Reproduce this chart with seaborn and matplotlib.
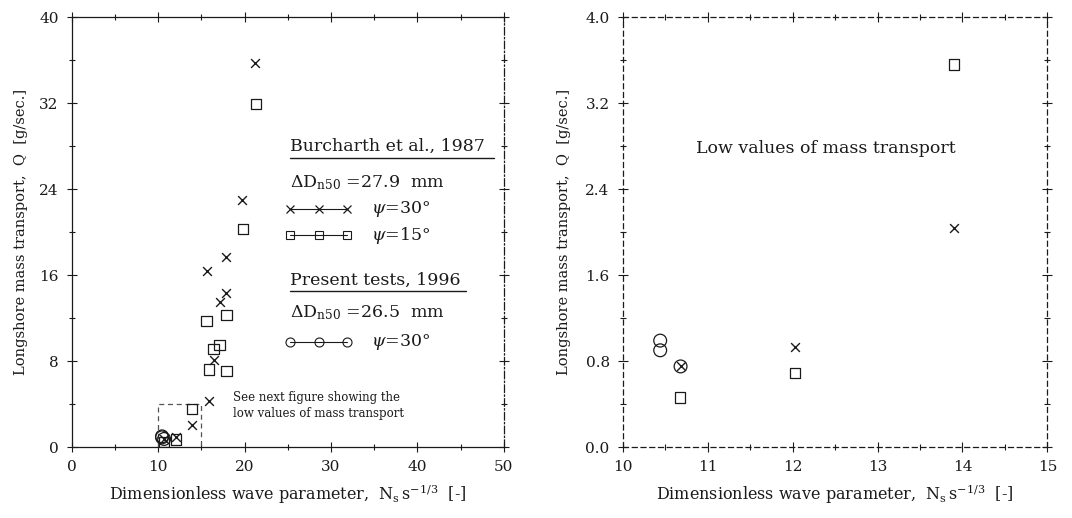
import matplotlib
matplotlib.use("Agg")
import matplotlib.pyplot as plt
import matplotlib.ticker as mticker
import seaborn as sns
import pandas as pd

# ---------------- data ----------------
burch30_x = [21.2, 19.7, 17.9, 15.6, 17.9, 17.1, 16.4, 15.9, 13.9, 12.03, 10.68]
burch30_q = [35.7, 23.0, 17.7, 16.4, 14.3, 13.5, 8.1, 4.3, 2.04, 0.93, 0.75]
burch15_x = [21.3, 19.8, 17.9, 15.6, 17.1, 16.4, 15.9, 17.9, 13.9, 12.03, 10.67]
burch15_q = [31.9, 20.3, 12.3, 11.7, 9.5, 9.1, 7.2, 7.1, 3.56, 0.69, 0.46]
present30_x = [10.44, 10.44, 10.68]
present30_q = [0.99, 0.90, 0.75]

zoom_x = [10, 15]
zoom_q = [0.0, 4.0]

left_xticks = [0, 10, 20, 30, 40, 50]
left_yticks = [0, 8, 16, 24, 32, 40]
right_xticks = [10, 11, 12, 13, 14, 15]
right_yticks = [0.0, 0.8, 1.6, 2.4, 3.2, 4.0]

df30 = pd.DataFrame({"x": burch30_x, "q": burch30_q})
df15 = pd.DataFrame({"x": burch15_x, "q": burch15_q})
dfp = pd.DataFrame({"x": present30_x, "q": present30_q})

# ---------------- style ----------------
sns.set_theme(style="white")
plt.rcParams["font.family"] = ["DejaVu Serif"]
plt.rcParams["mathtext.fontset"] = "dejavuserif"
INK = "#1a1a1a"
plt.rcParams["text.color"] = INK
plt.rcParams["axes.labelcolor"] = INK
plt.rcParams["xtick.color"] = INK
plt.rcParams["ytick.color"] = INK

fig = plt.figure(figsize=(10.72, 5.18), dpi=100)
axL = fig.add_axes([0.067, 0.137, 0.403, 0.830])
axR = fig.add_axes([0.581, 0.137, 0.396, 0.830])


def draw_points(ax):
    sns.scatterplot(data=df30, x="x", y="q", ax=ax, marker="x", s=40,
                    color=INK, linewidth=1.0, legend=False, zorder=3)
    sns.scatterplot(data=df15, x="x", y="q", ax=ax, marker="s", s=55,
                    facecolor="none", edgecolor=INK, linewidth=0.9,
                    legend=False, zorder=3)
    sns.scatterplot(data=dfp, x="x", y="q", ax=ax, marker="o", s=85,
                    facecolor="none", edgecolor=INK, linewidth=0.9,
                    legend=False, zorder=3)


def style_axes(ax, xt, yt, xminor, yminor, spine_styles):
    ax.set_xticks(xt)
    ax.set_yticks(yt)
    ax.xaxis.set_minor_locator(mticker.MultipleLocator(xminor))
    ax.yaxis.set_minor_locator(mticker.MultipleLocator(yminor))
    ax.tick_params(which="both", direction="inout", top=True, right=True,
                   bottom=True, left=True, labelsize=11, color=INK,
                   width=0.8)
    ax.tick_params(which="major", length=7, pad=6)
    ax.tick_params(which="minor", length=4)
    for side, ls in spine_styles.items():
        ax.spines[side].set_visible(True)
        ax.spines[side].set_linestyle(ls)
        ax.spines[side].set_color(INK)
        ax.spines[side].set_linewidth(0.9)
    ax.grid(False)


xlabel = r"Dimensionless wave parameter,  $\mathregular{N_s\,s^{-1/3}}$  [-]"
ylabel = r"Longshore mass transport,  Q  [g/sec.]"

# ---------------- left panel ----------------
draw_points(axL)
axL.set_xlim(left_xticks[0], left_xticks[-1])
axL.set_ylim(left_yticks[0], left_yticks[-1])
style_axes(axL, left_xticks, left_yticks, 5, 4,
           {"top": "-", "bottom": "-", "left": "-", "right": (0, (6, 2, 1, 2))})
axL.set_xlabel(xlabel, fontsize=11.5, labelpad=6)
axL.set_ylabel(ylabel, fontsize=10.5, labelpad=8)

# dashed zoom box
axL.plot([zoom_x[0], zoom_x[0], zoom_x[1], zoom_x[1]],
         [zoom_q[0], zoom_q[1], zoom_q[1], zoom_q[0]],
         ls=(0, (4, 3)), color="#555555", lw=0.9, zorder=2)
axL.text(18.6, 3.85, "See next figure showing the\nlow values of mass transport",
         fontsize=8.5, ha="left", va="center", linespacing=1.3)

# hand-made legend (axes fraction coordinates)
tr = axL.transAxes
fs = 12.5
axL.text(0.504, 0.700, "Burcharth et al., 1987", transform=tr, fontsize=fs,
         va="center", ha="left")
axL.plot([0.504, 0.978], [0.672, 0.672], transform=tr, color=INK, lw=1.0)
axL.text(0.504, 0.615, r"$\Delta\mathregular{D}_{\mathregular{n50}}$ =27.9  mm",
         transform=tr, fontsize=fs, va="center", ha="left")
axL.plot([0.504, 0.571, 0.638], [0.553] * 3, transform=tr, color=INK, lw=0.8,
         marker="x", ms=5.5, mew=0.9)
axL.text(0.692, 0.553, r"$\psi$=30$\degree$", transform=tr, fontsize=fs,
         va="center", ha="left")
axL.plot([0.504, 0.571, 0.638], [0.493] * 3, transform=tr, color=INK, lw=0.8,
         marker="s", ms=6, mfc="none", mew=0.8)
axL.text(0.692, 0.493, r"$\psi$=15$\degree$", transform=tr, fontsize=fs,
         va="center", ha="left")
axL.text(0.504, 0.388, "Present tests, 1996", transform=tr, fontsize=fs,
         va="center", ha="left")
axL.plot([0.504, 0.912], [0.362, 0.362], transform=tr, color=INK, lw=1.0)
axL.text(0.504, 0.313, r"$\Delta\mathregular{D}_{\mathregular{n50}}$ =26.5  mm",
         transform=tr, fontsize=fs, va="center", ha="left")
axL.plot([0.504, 0.571, 0.638], [0.245] * 3, transform=tr, color=INK, lw=0.8,
         marker="o", ms=6.5, mfc="none", mew=0.8)
axL.text(0.692, 0.245, r"$\psi$=30$\degree$", transform=tr, fontsize=fs,
         va="center", ha="left")

# ---------------- right panel ----------------
draw_points(axR)
axR.set_xlim(zoom_x[0], zoom_x[1])
axR.set_ylim(zoom_q[0], zoom_q[1])
dash = (0, (4, 3))
style_axes(axR, right_xticks, right_yticks, 0.5, 0.4,
           {"top": dash, "bottom": dash, "left": dash, "right": dash})
axR.yaxis.set_major_formatter(mticker.FormatStrFormatter("%.1f"))
axR.set_xlabel(xlabel, fontsize=11.5, labelpad=6)
axR.set_ylabel(ylabel, fontsize=10.5, labelpad=10)
axR.text(0.478, 0.695, "Low values of mass transport", transform=axR.transAxes,
         fontsize=12.5, ha="center", va="center")

fig.savefig("out.png", dpi=100, facecolor="white")
